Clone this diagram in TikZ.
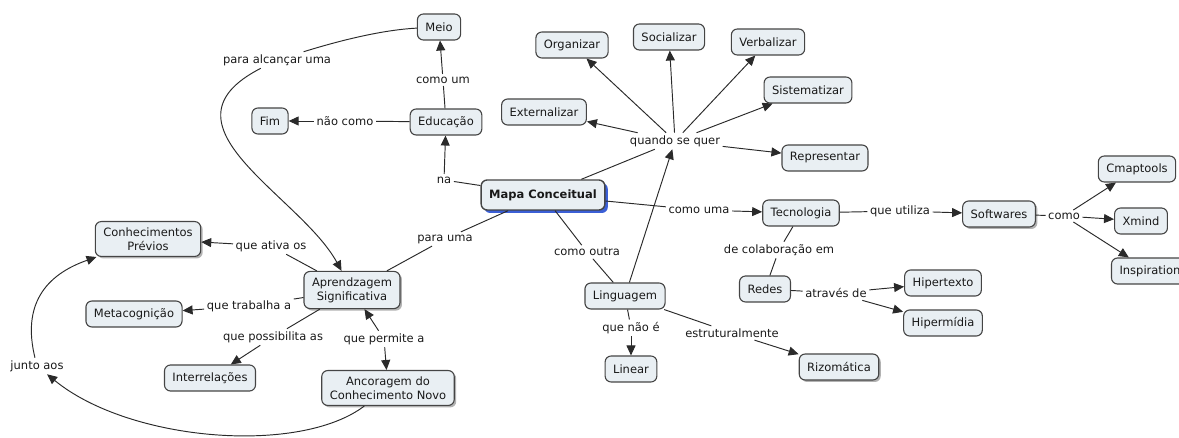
\documentclass[tikz,border=0pt]{standalone}
\usepackage{fontspec}
\setmainfont{DejaVu Sans}
\usetikzlibrary{arrows.meta,shadows}
\definecolor{nodefill}{HTML}{E9EFF3}
\definecolor{nodeline}{HTML}{454545}
\definecolor{linkcol}{HTML}{2A2A2A}
\definecolor{mapshadow}{HTML}{3B5FD6}
\tikzset{
  concept/.style={draw=nodeline, fill=nodefill, rounded corners=6pt, line width=1.1pt,
    inner xsep=8pt, inner ysep=4pt, minimum height=26pt, align=center,
    font=\fontsize{11.5}{14}\selectfont, text=black!90},
  twoline/.style={inner ysep=6pt},
  shadowed/.style={drop shadow={fill=black!60, opacity=0.5, shadow xshift=2pt, shadow yshift=-2pt}},
  phrase/.style={inner sep=2.5pt, font=\fontsize{11.5}{14}\selectfont, text=black!90},
  link/.style={draw=linkcol, line width=0.95pt},
  arr/.style={link, -{Triangle[length=10pt,width=9pt]}},
}
\begin{document}
\begin{tikzpicture}[x=1pt,y=-1pt]
\useasboundingbox (0,0) rectangle (1179,438);
% concepts
\node[concept] (meio) at (439,27) {Meio};
\node[concept] (org) at (572,45) {Organizar};
\node[concept] (soc) at (669,37) {Socializar};
\node[concept] (verb) at (768,42) {Verbalizar};
\node[concept] (sist) at (808,90) {Sistematizar};
\node[concept] (rep) at (825,158) {Representar};
\node[concept] (ext) at (544,112) {Externalizar};
\node[concept] (educ) at (446,122) {Educação};
\node[concept] (fim) at (270,121) {Fim};
\node[concept, line width=1.4pt, font=\fontsize{11.5}{14}\selectfont\bfseries, inner xsep=8pt, minimum height=30pt,
  drop shadow={fill=mapshadow, opacity=1, shadow xshift=3pt, shadow yshift=-3pt}] (mapa) at (543,195) {Mapa Conceitual};
\node[concept, twoline, shadowed] (conhec) at (148,239) {Conhecimentos\\Prévios};
\node[concept, twoline, shadowed] (aprend) at (352,290) {Aprendzagem\\Significativa};
\node[concept] (meta) at (134,314) {Metacognição};
\node[concept] (inter) at (210,378) {Interrelações};
\node[concept, twoline, shadowed] (ancor) at (388,388) {Ancoragem do\\Conhecimento Novo};
\node[concept] (tec) at (801,213) {Tecnologia};
\node[concept, shadowed] (soft) at (999,214) {Softwares};
\node[concept] (cmap) at (1137,169) {Cmaptools};
\node[concept] (xmind) at (1141,221) {Xmind};
\node[concept] (insp) at (1150,271) {Inspiration};
\node[concept] (redes) at (765,289) {Redes};
\node[concept] (hipert) at (943,283) {Hipertexto};
\node[concept] (hiperm) at (943,323) {Hipermídia};
\node[concept] (ling) at (625,296) {Linguagem};
\node[concept] (linear) at (631,369) {Linear};
\node[concept, shadowed] (rizo) at (839,367) {Rizomática};
% linking phrases
\node[phrase] (quando) at (675,141) {quando se quer};
\node[phrase] (comoum) at (443,80) {como um};
\node[phrase] (naocomo) at (345,121) {não como};
\node[phrase] (na) at (444,180) {na};
\node[phrase] (alc) at (277,60) {para alcançar uma};
\node[phrase] (paraum) at (445,239) {para uma};
\node[phrase] (ativa) at (271,246) {que ativa os};
\node[phrase] (trab) at (249,306) {que trabalha a};
\node[phrase] (poss) at (273,337) {que possibilita as};
\node[phrase] (permite) at (384,339) {que permite a};
\node[phrase] (junto) at (37,366) {junto aos};
\node[phrase] (comouma) at (699,210) {como uma};
\node[phrase] (utiliza) at (900,211) {que utiliza};
\node[phrase] (como) at (1064,216) {como};
\node[phrase] (colab) at (779,250) {de colaboração em};
\node[phrase] (atraves) at (836,293) {através de};
\node[phrase] (comooutra) at (587,252) {como outra};
\node[phrase] (naoe) at (631,328) {que não é};
\node[phrase] (estrut) at (732,333) {estruturalmente};
% connectors
\draw[link] (mapa) -- (na);
\draw[arr] (na) -- (educ);
\draw[link] (educ) -- (comoum);
\draw[arr] (comoum) -- (meio);
\draw[link] (educ) -- (naocomo);
\draw[arr] (naocomo) -- (fim);
\draw[link] (meio) .. controls (380,30) and (335,42) .. (alc);
\draw[arr] (alc) .. controls (150,125) and (300,195) .. (aprend);
\draw[link] (mapa) -- (quando);
\draw[arr] (quando) -- (org);
\draw[arr] (quando) -- (soc);
\draw[arr] (quando) -- (verb);
\draw[arr] (quando) -- (sist);
\draw[arr] (quando) -- (rep);
\draw[arr] (quando) -- (ext);
\draw[arr] (ling) -- (quando);
\draw[link] (mapa) -- (paraum);
\draw[link] (paraum) -- (aprend);
\draw[link] (aprend) -- (ativa);
\draw[arr] (ativa) -- (conhec);
\draw[link] (aprend) -- (trab);
\draw[arr] (trab) -- (meta);
\draw[link] (aprend) -- (poss);
\draw[arr] (poss) -- (inter);
\draw[arr] (permite) -- (aprend);
\draw[arr] (permite) -- (ancor);
\draw[arr] (ancor) .. controls (300,455) and (130,442) .. (junto);
\draw[arr] (junto) .. controls (22,305) and (45,275) .. (conhec);
\draw[link] (mapa) -- (comouma);
\draw[arr] (comouma) -- (tec);
\draw[link] (tec) -- (utiliza);
\draw[arr] (utiliza) -- (soft);
\draw[link] (soft) -- (como);
\draw[arr] (como) -- (cmap);
\draw[arr] (como) -- (xmind);
\draw[arr] (como) -- (insp);
\draw[link] (tec) -- (colab);
\draw[link] (colab) -- (redes);
\draw[link] (redes) -- (atraves);
\draw[arr] (atraves) -- (hipert);
\draw[arr] (atraves) -- (hiperm);
\draw[link] (mapa) -- (comooutra);
\draw[link] (comooutra) -- (ling);
\draw[link] (ling) -- (naoe);
\draw[arr] (naoe) -- (linear);
\draw[link] (ling) -- (estrut);
\draw[arr] (estrut) -- (rizo);
\end{tikzpicture}
\end{document}
